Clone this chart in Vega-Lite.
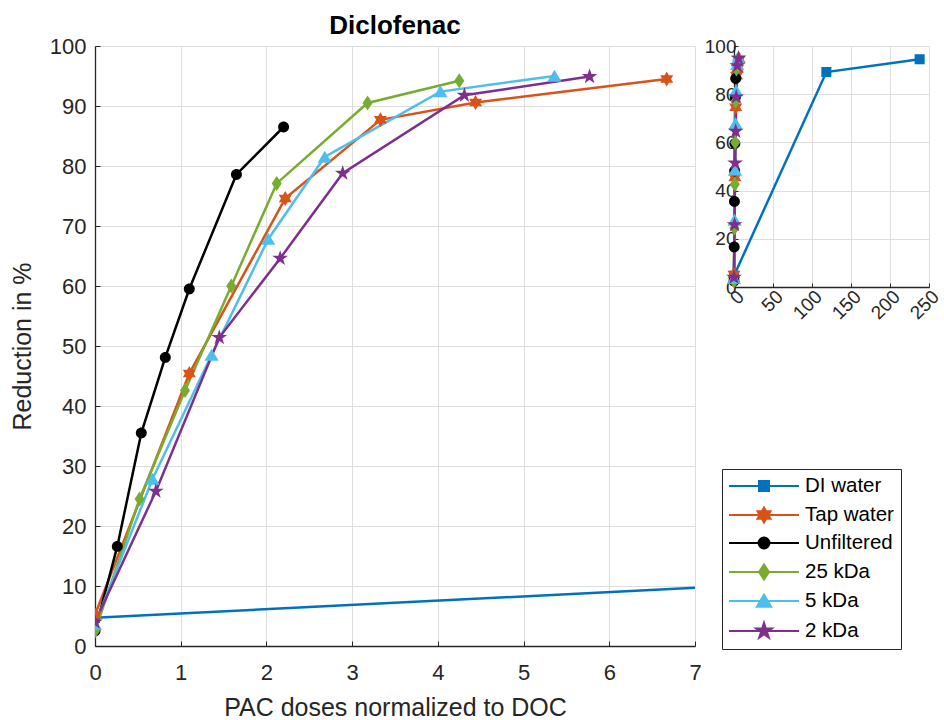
{
  "$schema": "https://vega.github.io/schema/vega-lite/v6.json",
  "background": "white",
  "padding": {"left": 10, "top": 13, "right": 5, "bottom": 5},
  "config": {
    "font": "Liberation Sans",
    "view": {"stroke": null},
    "axis": {
      "labelFont": "Liberation Sans",
      "titleFont": "Liberation Sans",
      "labelColor": "#262626",
      "titleColor": "#262626",
      "domainColor": "#262626",
      "tickColor": "#262626",
      "gridColor": "#dedede",
      "titleFontWeight": "normal",
      "domainWidth": 1.3
    }
  },
  "datasets": {
    "d": [
      {"series": "DI water", "x": 0, "y": 4.7},
      {"series": "DI water", "x": 118.4, "y": 89.2},
      {"series": "DI water", "x": 238, "y": 94.5},
      {"series": "Tap water", "x": 0, "y": 5.2},
      {"series": "Tap water", "x": 1.1, "y": 45.4},
      {"series": "Tap water", "x": 2.22, "y": 74.6},
      {"series": "Tap water", "x": 3.33, "y": 87.7},
      {"series": "Tap water", "x": 4.44, "y": 90.6},
      {"series": "Tap water", "x": 6.67, "y": 94.5},
      {"series": "Unfiltered", "x": 0, "y": 2.5},
      {"series": "Unfiltered", "x": 0.26, "y": 16.6},
      {"series": "Unfiltered", "x": 0.54, "y": 35.5},
      {"series": "Unfiltered", "x": 0.82, "y": 48.1},
      {"series": "Unfiltered", "x": 1.1, "y": 59.5},
      {"series": "Unfiltered", "x": 1.65, "y": 78.6},
      {"series": "Unfiltered", "x": 2.2, "y": 86.5},
      {"series": "25 kDa", "x": 0, "y": 2.5},
      {"series": "25 kDa", "x": 0.52, "y": 24.5},
      {"series": "25 kDa", "x": 1.05, "y": 42.6},
      {"series": "25 kDa", "x": 1.59, "y": 60.0},
      {"series": "25 kDa", "x": 2.12, "y": 77.1},
      {"series": "25 kDa", "x": 3.18, "y": 90.5},
      {"series": "25 kDa", "x": 4.25, "y": 94.2},
      {"series": "5 kDa", "x": 0, "y": 3.6},
      {"series": "5 kDa", "x": 0.67, "y": 27.8},
      {"series": "5 kDa", "x": 1.36, "y": 48.5},
      {"series": "5 kDa", "x": 2.02, "y": 67.8},
      {"series": "5 kDa", "x": 2.68, "y": 81.5},
      {"series": "5 kDa", "x": 4.03, "y": 92.4},
      {"series": "5 kDa", "x": 5.36, "y": 95.0},
      {"series": "2 kDa", "x": 0, "y": 4.0},
      {"series": "2 kDa", "x": 0.71, "y": 25.8},
      {"series": "2 kDa", "x": 1.45, "y": 51.4},
      {"series": "2 kDa", "x": 2.16, "y": 64.6},
      {"series": "2 kDa", "x": 2.89, "y": 78.8},
      {"series": "2 kDa", "x": 4.31, "y": 91.8},
      {"series": "2 kDa", "x": 5.77, "y": 94.9}
    ]
  },
  "resolve": {"legend": {"color": "independent"}},
  "bounds": "flush",
  "spacing": 39,
  "hconcat": [
    {
      "width": 600,
      "height": 600,
      "title": {"text": "Diclofenac", "fontSize": 26, "fontWeight": "bold", "color": "black", "offset": -4, "anchor": "middle", "font": "Liberation Sans"},
      "data": {"name": "d"},
      "encoding": {
        "x": {
          "field": "x", "type": "quantitative",
          "scale": {"domain": [0, 7], "nice": false, "zero": false},
          "axis": {"values": [0, 1, 2, 3, 4, 5, 6, 7], "title": "PAC doses normalized to DOC", "titleFontSize": 25, "labelFontSize": 22, "labelPadding": 21, "tickSize": -5, "titlePadding": 12.5, "labelFlush": false}
        },
        "y": {
          "field": "y", "type": "quantitative",
          "scale": {"domain": [0, 100], "nice": false},
          "axis": {"values": [0, 10, 20, 30, 40, 50, 60, 70, 80, 90, 100], "title": "Reduction in %", "titleFontSize": 25, "labelFontSize": 22, "labelPadding": 14, "tickSize": -5, "titlePadding": 14, "labelFlush": false}
        },
        "color": {
          "field": "series", "type": "nominal",
          "scale": {"domain": ["DI water", "Tap water", "Unfiltered", "25 kDa", "5 kDa", "2 kDa"], "range": ["#0072BD", "#D95319", "#000000", "#77AC30", "#4DBEEE", "#7E2F8E"]}
        }
      },
      "layer": [
        {
          "mark": {"type": "line", "clip": true, "strokeWidth": 2.5},
          "encoding": {
            "color": {
              "field": "series", "type": "nominal",
              "legend": {
                "orient": "none", "legendX": 627, "legendY": 423, "title": null,
                "strokeColor": "#262626", "fillColor": "white", "padding": 7,
                "labelFontSize": 20.5, "labelFont": "Liberation Sans", "labelColor": "black",
                "symbolSize": 4900, "rowPadding": 6, "symbolStrokeWidth": 2,
                "encode": {
                  "labels": {
                    "update": {
                      "x": {"value": 76},
                      "y": {"value": 10}
                    }
                  },
                  "symbols": {
                    "update": {
                      "x": {"value": 35},
                      "y": {"value": 10},
                      "shape": {"signal": "datum.value === 'DI water' ? 'M-1,0H1M-0.143,-0.143H0.143V0.143H-0.143Z' : datum.value === 'Tap water' ? 'M-1,0H1M0,-0.214L0.062,-0.107L0.186,-0.107L0.124,0L0.186,0.107L0.062,0.107L0,0.214L-0.062,0.107L-0.186,0.107L-0.124,0L-0.186,-0.107L-0.062,-0.107Z' : datum.value === 'Unfiltered' ? 'M-1,0H1M-0.156,0A0.156,0.156,0,1,1,0.156,0A0.156,0.156,0,1,1,-0.156,0Z' : datum.value === '25 kDa' ? 'M-1,0H1M0,-0.214L0.144,0L0,0.214L-0.144,0Z' : datum.value === '5 kDa' ? 'M-1,0H1M0,-0.182L0.204,0.161L-0.204,0.161Z' : 'M-1,0H1M0,-0.236L0.053,-0.073L0.224,-0.073L0.0855,0.028L0.139,0.191L0,0.09L-0.139,0.191L-0.0855,0.028L-0.224,-0.073L-0.053,-0.073Z'"},
                      "fill": {"scale": "color", "field": "value"},
                      "stroke": {"scale": "color", "field": "value"},
                      "strokeWidth": {"value": 2},
                      "opacity": {"value": 1}
                    }
                  }
                }
              }
            }
          }
        },
        {
          "mark": {"type": "point", "filled": true, "clip": true, "opacity": 1, "size": 225},
          "encoding": {
            "shape": {
              "field": "series", "type": "nominal", "legend": null,
              "scale": {"domain": ["DI water", "Tap water", "Unfiltered", "25 kDa", "5 kDa", "2 kDa"], "range": [
                "M-0.67,-0.67H0.67V0.67H-0.67Z",
                "M0,-1L0.289,-0.5L0.866,-0.5L0.577,0L0.866,0.5L0.289,0.5L0,1L-0.289,0.5L-0.866,0.5L-0.577,0L-0.866,-0.5L-0.289,-0.5Z",
                "M-0.73,0A0.73,0.73,0,1,1,0.73,0A0.73,0.73,0,1,1,-0.73,0Z",
                "M0,-1L0.67,0L0,1L-0.67,0Z",
                "M0,-0.85L0.95,0.75L-0.95,0.75Z",
                "M0,-1.1L0.247,-0.34L1.046,-0.34L0.399,0.13L0.647,0.89L0,0.42L-0.647,0.89L-0.399,0.13L-1.046,-0.34L-0.247,-0.34Z"
              ]}
            },
            "color": {"field": "series", "type": "nominal", "legend": null}
          }
        }
      ]
    },
    {
      "width": 195,
      "height": 241,
      "data": {"name": "d"},
      "encoding": {
        "x": {
          "field": "x", "type": "quantitative",
          "scale": {"domain": [0, 250], "nice": false},
          "axis": {"values": [0, 50, 100, 150, 200, 250], "title": null, "labelAngle": -45, "labelFontSize": 19, "tickSize": -4, "labelPadding": 4, "labelFlush": false}
        },
        "y": {
          "field": "y", "type": "quantitative",
          "scale": {"domain": [0, 100], "nice": false},
          "axis": {"values": [0, 20, 40, 60, 80, 100], "title": null, "labelFontSize": 19, "tickSize": -4, "labelPadding": 2, "labelFlush": false}
        },
        "color": {"field": "series", "type": "nominal", "legend": null}
      },
      "layer": [
        {"mark": {"type": "line", "strokeWidth": 2.5}},
        {
          "mark": {"type": "point", "filled": true, "opacity": 1, "size": 225},
          "encoding": {
            "shape": {
              "field": "series", "type": "nominal", "legend": null,
              "scale": {"domain": ["DI water", "Tap water", "Unfiltered", "25 kDa", "5 kDa", "2 kDa"], "range": [
                "M-0.67,-0.67H0.67V0.67H-0.67Z",
                "M0,-1L0.289,-0.5L0.866,-0.5L0.577,0L0.866,0.5L0.289,0.5L0,1L-0.289,0.5L-0.866,0.5L-0.577,0L-0.866,-0.5L-0.289,-0.5Z",
                "M-0.73,0A0.73,0.73,0,1,1,0.73,0A0.73,0.73,0,1,1,-0.73,0Z",
                "M0,-1L0.67,0L0,1L-0.67,0Z",
                "M0,-0.85L0.95,0.75L-0.95,0.75Z",
                "M0,-1.1L0.247,-0.34L1.046,-0.34L0.399,0.13L0.647,0.89L0,0.42L-0.647,0.89L-0.399,0.13L-1.046,-0.34L-0.247,-0.34Z"
              ]}
            }
          }
        }
      ]
    }
  ]
}
